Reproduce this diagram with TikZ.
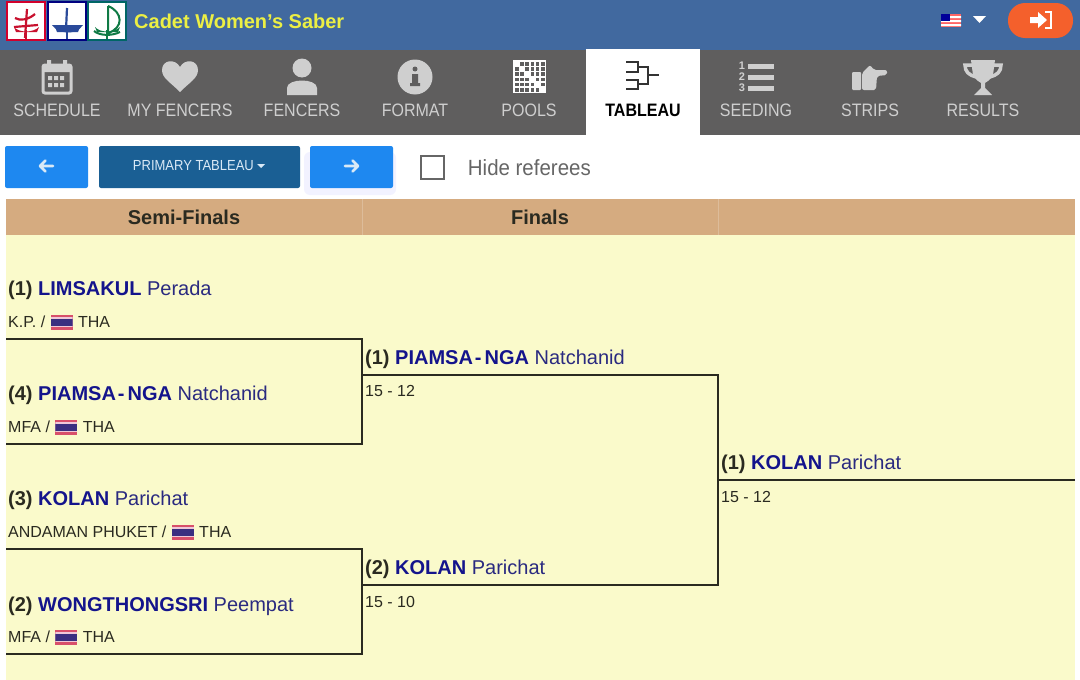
\documentclass[tikz,border=0pt]{standalone}
\usepackage{fontspec}
\setmainfont{Liberation Sans}
\newfontfamily\tabfont[FakeStretch=0.89]{Liberation Sans}
\newfontfamily\slimfont[FakeStretch=0.93]{Liberation Sans}
\usetikzlibrary{positioning}
\definecolor{header_blue}{HTML}{41699F}
\definecolor{nav_gray}{HTML}{5F5E5E}
\definecolor{nav_text}{HTML}{CFCFCF}
\definecolor{btn_blue}{HTML}{1E88F0}
\definecolor{btn_dark}{HTML}{1A5F94}
\definecolor{btn_text}{HTML}{D9E9F6}
\definecolor{table_tan}{HTML}{D5AB80}
\definecolor{table_bg}{HTML}{FAFACB}
\definecolor{name_blue}{HTML}{14148C}
\definecolor{first_blue}{HTML}{2A2A80}
\definecolor{ink}{HTML}{2A2A20}
\definecolor{flag_red}{HTML}{D8506A}
\definecolor{flag_pale}{HTML}{EFC8D8}
\definecolor{flag_navy}{HTML}{3A2F80}
\definecolor{logout}{HTML}{F4602C}
\definecolor{logo_red}{HTML}{C8102E}
\definecolor{logo_blue}{HTML}{2A4A9A}
\definecolor{logo_green}{HTML}{0F7A45}
\newcommand{\fs}[1]{\fontsize{#1}{#1}\selectfont}
\tikzstyle{tab_label} = [
    nav_text,
    font=\tabfont\fs{18},
    inner sep=0pt,
    anchor=center
]
\tikzstyle{column_head} = [
    ink,
    font=\bfseries\fs{20},
    inner sep=0pt
]
\tikzstyle{fencer} = [
    anchor=base west,
    font=\fs{20},
    inner sep=0pt
]
\tikzstyle{club} = [
    ink,
    font=\fs{16},
    inner sep=0pt
]
\tikzstyle{score} = [
    ink,
    anchor=base west,
    font=\fs{16},
    inner sep=0pt
]
\tikzstyle{thai_flag} = [
    inner sep=0pt,
    minimum width=22pt,
    minimum height=15pt,
    fill=flag_red,
    path picture={
        \fill[flag_pale] (path picture bounding box.west) ++(0,5pt) rectangle ++(22pt,-10pt);
        \fill[flag_navy] (path picture bounding box.west) ++(0,3.5pt) rectangle ++(22pt,-7pt);
    }
]
\tikzstyle{bracket} = [
    draw=ink,
    line width=2.8pt,
    line join=miter
]
\tikzstyle{nav_btn} = [
    rounded corners=2pt,
    fill=btn_blue,
    inner sep=0pt,
    minimum width=83pt,
    minimum height=42pt
]
\tikzstyle{btn_arrow} = [
    draw=btn_text,
    line width=2.6pt,
    line cap=round,
    line join=round
]
\newcommand{\fencerline}[3]{{\color{ink}\bfseries(#1)} {\color{name_blue}\bfseries #2} {\color{first_blue}#3}}
\begin{document}
\begin{tikzpicture}[
    x=1pt,
    y=-1pt
]
\useasboundingbox (0,0) rectangle (1080,680);
\fill[white] (0,0) rectangle (1080,680);

% top bar
\fill[header_blue] (0,0) rectangle (1080,50);
\foreach \lx/\lc/\lb in {7/logo_red/purple!70!red, 48/logo_blue/blue!50!black, 88/logo_green/teal!80!black} {
    \fill[white, draw=\lb, line width=2pt] (\lx,2) rectangle ++(38,38);
    \fill[\lc] (\lx+7,27) .. controls (\lx+12,33) and (\lx+26,33) .. (\lx+32,27) -- (\lx+30,32) -- (\lx+9,32) -- cycle;
    \draw[\lc, line width=2pt] (\lx+19,30) -- (\lx+19,39);
}
\draw[logo_red, line width=2.2pt] (25,38) -- (27,9) (15,18) .. controls (20,21) and (28,20) .. (35,14) (14,27) -- (38,25);
\draw[logo_blue, line width=2.2pt] (67,8) -- (66,30);
\fill[logo_blue] (52,25) .. controls (58,34) and (76,36) .. (83,25) -- cycle;
\draw[logo_green, line width=2pt] (108,6) -- (108,32) (108,6) .. controls (123,12) and (124,28) .. (108,33) (94,31) .. controls (100,36) and (112,36) .. (120,32);
\node (title) [right, inner sep=0pt, font=\bfseries\fs{20}, text=yellow!90!green!75!white] at (134,21) {Cadet Women's Saber};
% language + logout
\fill[red!60!white] (941,14) rectangle (961,27);
\fill[white] (941,16) rectangle (961,18) (941,20) rectangle (961,22) (941,24) rectangle (961,26);
\fill[blue!60!black] (941,14) rectangle (950,21);
\fill[white] (973,16) -- (986,16) -- (979.5,23) -- cycle;
\fill[logout, rounded corners=17pt] (1008,3) rectangle (1073,38);
\fill[white] (1030,17) -- (1038,17) -- (1038,12) -- (1047,20) -- (1038,28) -- (1038,23) -- (1030,23) -- cycle;
\draw[white, line width=1.5pt] (1045,12) -- (1051,12) -- (1051,28) -- (1045,28);

% nav tabs
\fill[nav_gray] (0,50) rectangle (1080,135);
\fill[white] (586,49) rectangle (700,135);
\foreach \tx/\tname in {57/SCHEDULE, 180/MY FENCERS, 302/FENCERS, 415/FORMAT, 529/POOLS, 756/SEEDING, 870/STRIPS, 983/RESULTS} {
    \node [tab_label] at (\tx,110) {\tname};
}
\node (tableau) [tab_label, text=black, font=\tabfont\bfseries\fs{18}] at (643,110) {TABLEAU};
% nav icons
\draw[nav_text, line width=3pt, rounded corners=2pt] (43,65) rectangle (71,93);
\fill[nav_text] (43,65) rectangle (71,72) (47,60) rectangle (51,67) (63,60) rectangle (67,67);
\foreach \cx in {48,54,60} {
    \fill[nav_text] (\cx,76) rectangle ++(4,4) (\cx,83) rectangle ++(4,4);
}
\fill[nav_text] (180,92) .. controls (170,82) and (162,78) .. (162,70) .. controls (162,60) and (175,58) .. (180,67) .. controls (185,58) and (198,60) .. (198,70) .. controls (198,78) and (190,82) .. (180,92) -- cycle;
\fill[nav_text] (302,68) circle (9.5);
\fill[nav_text] (287,95) -- (287,88) .. controls (287,78) and (317,78) .. (317,88) -- (317,95) -- cycle;
\fill[nav_text] (415,77) circle (17.5);
\fill[nav_gray] (415,69) circle (2.5) (412,74) rectangle (418,84) (410,83) rectangle (420,86);
\fill[white] (513,60) rectangle (546,93);
\foreach \gx in {0,...,5} {
    \foreach \gy in {0,...,5} {
        \ifnum\gx=\gy\else
            \fill[nav_gray] (515+5.2*\gx,62+5.2*\gy) rectangle ++(3.6,3.6);
        \fi
    }
}
\draw[black!80, line width=1.6pt] (626,62) -- (638,62) -- (638,72) -- (626,72) (626,80) -- (638,80) -- (638,89) -- (626,89) (638,67) -- (648,67) -- (648,84) -- (638,84) (648,75) -- (659,75);
\foreach \ly/\ln in {66/1, 77/2, 88/3} {
    \fill[nav_text] (748,\ly-2.5) rectangle (774,\ly+2.5);
    \node (seed\ln) [inner sep=0pt, text=nav_text, font=\bfseries\fs{11}] at (742,\ly) {\ln};
}
\fill[nav_text, rounded corners=1pt] (852,72) rectangle (861,90);
\fill[nav_text, rounded corners=2pt] (862,73) -- (870,65) -- (874,70) -- (887,70) -- (887,75) -- (877,76) -- (876,90) -- (862,90) -- cycle;
\draw[nav_text, line width=3.5pt] (972,65) -- (965,65) .. controls (965,72) and (969,75) .. (976,77) (994,65) -- (1001,65) .. controls (1001,72) and (997,75) .. (990,77);
\fill[nav_text] (971,60) -- (995,60) -- (993,75) .. controls (991,80) and (986,82) .. (985,83) -- (985,88) -- (992,95) -- (974,95) -- (981,88) -- (981,83) .. controls (980,82) and (975,80) .. (973,75) -- cycle;

% button row
\fill[blue!5, rounded corners=6pt] (304,152) rectangle (396,195);
\node (btn_prev) [nav_btn] at (46.5,167) {};
\node (btn_round) [nav_btn, fill=btn_dark, minimum width=201pt] at (199.5,167) {};
\node (btn_next) [nav_btn] at (351.5,167) {};
\draw[btn_arrow] (53,166) -- (40,166) (45.5,160.5) -- (40,166) -- (45.5,171.5);
\draw[btn_arrow] (345,166) -- (358,166) (352.5,160.5) -- (358,166) -- (352.5,171.5);
\node (round_text) [inner sep=0pt, text=btn_text, font=\tabfont\fs{14.6}, anchor=east] at (254,166) {PRIMARY TABLEAU};
\fill[btn_text] (257,164) -- (265,164) -- (261,168) -- cycle;
\node (check_box) [draw=black!60, line width=1.5pt, fill=white, minimum size=23pt, inner sep=0pt] at (432.5,167.5) {};
\node (hide_text) [right=23pt of check_box, inner sep=0pt, text=black!60, font=\slimfont\fs{22}] {Hide referees};

% table
\fill[table_bg] (6,235) rectangle (1075,680);
\fill[table_tan] (6,199) rectangle (1075,235);
\draw[table_tan!80!white, line width=1pt] (362,199) -- (362,235) (718,199) -- (718,235);
\node (head_semi) [column_head] at (184,217) {Semi-Finals};
\node (head_finals) [column_head] at (540,217) {Finals};

% fencers, first round
\node (limsakul) [fencer] at (8,295) {\fencerline{1}{LIMSAKUL}{Perada}};
\node (limsakul_club) [club, below right=21pt and 0pt of limsakul.base west] {K.P. /};
\node (limsakul_flag) [thai_flag, right=5pt of limsakul_club] {};
\node (limsakul_nat) [club, right=5pt of limsakul_flag] {THA};

\node (piamsa) [fencer] at (8,400) {\fencerline{4}{PIAMSA\kern2pt-\kern3pt NGA}{Natchanid}};
\node (piamsa_club) [club, below right=21pt and 0pt of piamsa.base west] {MFA /};
\node (piamsa_flag) [thai_flag, right=5pt of piamsa_club] {};
\node (piamsa_nat) [club, right=5pt of piamsa_flag] {THA};

\node (kolan) [fencer] at (8,505) {\fencerline{3}{KOLAN}{Parichat}};
\node (kolan_club) [club, below right=21pt and 0pt of kolan.base west] {ANDAMAN PHUKET /};
\node (kolan_flag) [thai_flag, right=5pt of kolan_club] {};
\node (kolan_nat) [club, right=5pt of kolan_flag] {THA};

\node (wong) [fencer] at (8,611) {\fencerline{2}{WONGTHONGSRI}{Peempat}};
\node (wong_club) [club, below right=20pt and 0pt of wong.base west] {MFA /};
\node (wong_flag) [thai_flag, right=5pt of wong_club] {};
\node (wong_nat) [club, right=5pt of wong_flag] {THA};

% winners
\node (final_a) [fencer] at (365,364) {\fencerline{1}{PIAMSA\kern2pt-\kern3pt NGA}{Natchanid}};
\node (score_a) [score] at (365,396) {15 - 12};
\node (final_b) [fencer] at (365,574) {\fencerline{2}{KOLAN}{Parichat}};
\node (score_b) [score] at (365,607) {15 - 10};
\node (champ) [fencer] at (721,469) {\fencerline{1}{KOLAN}{Parichat}};
\node (score_c) [score] at (721,502) {15 - 12};

% bracket
\coordinate (top_a) at (6,339);
\coordinate (top_b) at (362,339);
\coordinate (top_c) at (362,444);
\coordinate (top_d) at (6,444);
\coordinate (low_a) at (6,549);
\coordinate (low_b) at (362,549);
\coordinate (low_c) at (362,654);
\coordinate (low_d) at (6,654);
\coordinate (mid_a) at (362,375);
\coordinate (mid_b) at (718,375);
\coordinate (mid_c) at (718,585);
\coordinate (mid_d) at (362,585);
\coordinate (end_a) at (718,480);
\coordinate (end_b) at (1075,480);
\draw [bracket] (top_a) -- (top_b) -- (top_c) -- (top_d);
\draw [bracket] (low_a) -- (low_b) -- (low_c) -- (low_d);
\draw [bracket] (mid_a) -- (mid_b) -- (mid_c) -- (mid_d);
\draw [bracket] (end_a) -- (end_b);
\end{tikzpicture}
\end{document}
